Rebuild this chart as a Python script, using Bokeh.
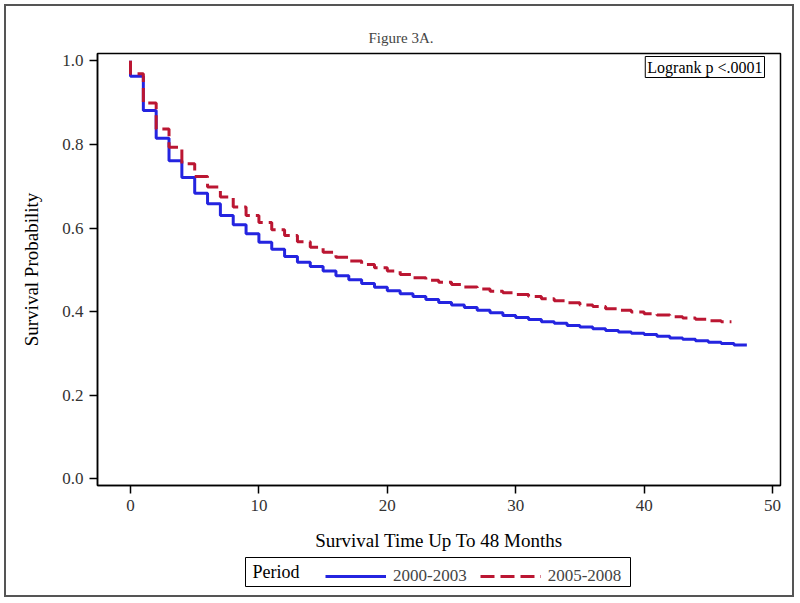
from bokeh.plotting import figure
from bokeh.layouts import column
from bokeh.models import Range1d, Legend, LegendItem, Label, FixedTicker, BoxAnnotation
from bokeh.embed import file_html
from bokeh.resources import INLINE

# ---- data ----
# Kaplan-Meier survival, value holding on [month k, k+1)
months_2000 = list(range(48))
surv_2000 = [0.963, 0.881, 0.815, 0.761, 0.721, 0.683, 0.658, 0.630, 0.608, 0.586,
             0.566, 0.549, 0.532, 0.518, 0.508, 0.497, 0.486, 0.476, 0.467, 0.458,
             0.450, 0.443, 0.436, 0.429, 0.422, 0.416, 0.410, 0.403, 0.397, 0.391,
             0.386, 0.381, 0.376, 0.372, 0.367, 0.363, 0.359, 0.355, 0.351, 0.348,
             0.345, 0.341, 0.337, 0.334, 0.330, 0.327, 0.324, 0.320]
end_2000 = 48.0

months_2005 = list(range(47))
surv_2005 = [0.969, 0.899, 0.837, 0.793, 0.754, 0.723, 0.698, 0.674, 0.650, 0.630,
             0.613, 0.596, 0.582, 0.567, 0.554, 0.542, 0.530, 0.521, 0.513, 0.505,
             0.497, 0.489, 0.481, 0.475, 0.470, 0.465, 0.459, 0.454, 0.449, 0.445,
             0.441, 0.436, 0.431, 0.426, 0.421, 0.416, 0.412, 0.407, 0.403, 0.399,
             0.395, 0.392, 0.388, 0.385, 0.382, 0.378, 0.376]
end_2005 = 46.8

series_labels = ["2000-2003", "2005-2008"]
legend_title = "Period"
x_ticks = [0, 10, 20, 30, 40, 50]
x_tick_labels = ["0", "10", "20", "30", "40", "50"]
y_ticks = [0.0, 0.2, 0.4, 0.6, 0.8, 1.0]
y_tick_labels = ["0.0", "0.2", "0.4", "0.6", "0.8", "1.0"]

FONT = "Liberation Serif"
BLUE = "#2424e0"
RED = "#bb1632"
DASH = "14 6"

X0, X1 = -2.57, 50.62
Y0, Y1 = -0.016, 1.0175
FW, FH = 683, 432
ML, MR = 91, 12

p = figure(frame_width=FW, frame_height=FH,
           min_border_left=ML, min_border_right=MR,
           min_border_top=47, min_border_bottom=70,
           x_range=Range1d(X0, X1), y_range=Range1d(Y0, Y1),
           output_backend="svg", toolbar_location=None)

p.xgrid.visible = False
p.ygrid.visible = False
p.outline_line_color = "black"
p.outline_line_width = 1.5
p.background_fill_color = "white"
p.border_fill_color = "white"


def step_pts(months, surv, end):
    t = [months[0]] + list(months) + [end]
    s = [1.0] + list(surv) + [surv[-1]]
    return t, s


t1, s1 = step_pts(months_2000, surv_2000, end_2000)
t2, s2 = step_pts(months_2005, surv_2005, end_2005)

p.step(t1, s1, mode="after", line_color=BLUE, line_width=3)
p.step(t2, s2, mode="after", line_color=RED, line_width=3, line_dash=DASH)

# axes
for ax in (p.xaxis[0], p.yaxis[0]):
    ax.axis_line_color = "black"
    ax.axis_line_width = 1.5
    ax.major_tick_line_color = "black"
    ax.major_tick_line_width = 1.5
    ax.major_tick_in = 0
    ax.major_tick_out = 8
    ax.minor_tick_line_color = None
    ax.major_label_text_font = FONT
    ax.major_label_text_font_size = "17px"
    ax.major_label_text_color = "#333333"
    ax.axis_label_text_font = FONT
    ax.axis_label_text_font_size = "19px"
    ax.axis_label_text_font_style = "normal"
    ax.axis_label_text_color = "black"

p.xaxis.ticker = FixedTicker(ticks=x_ticks)
p.xaxis.major_label_overrides = {t: l for t, l in zip(x_ticks, x_tick_labels)}
p.yaxis.ticker = FixedTicker(ticks=y_ticks)
p.yaxis.major_label_overrides = {t: l for t, l in zip(y_ticks, y_tick_labels)}
p.xaxis.axis_label = "Survival Time Up To 48 Months"
p.yaxis.axis_label = "Survival Probability"
p.xaxis.major_label_standoff = 6
p.yaxis.major_label_standoff = 6
p.xaxis.axis_label_standoff = 16
p.yaxis.axis_label_standoff = 17

# title
p.title.text = "Figure 3A."
p.title.align = "left"
p.title.offset = 271
p.title.text_font = FONT
p.title.text_font_size = "15px"
p.title.text_font_style = "normal"
p.title.standoff = 15

# logrank box
dx = (X1 - X0) / FW
dy = (Y1 - Y0) / FH
p.add_layout(Label(x=X1 - 16 * dx, y=Y1 - 3 * dy, text="Logrank p <.0001",
                   text_align="right", text_baseline="top",
                   text_font=FONT, text_font_size="16px", text_color="black",
                   border_line_color="black", border_line_width=1,
                   background_fill_color="white", padding=2))

# ---- legend strip under the chart ----
# strip ranges are in pixels (x from frame left, y offset by 100 from the strip bottom),
# so the key renderers' survival data fall outside the strip's view.
LH = 40
YB = 100
pl = figure(frame_width=FW, frame_height=LH,
            min_border_left=ML, min_border_right=MR, min_border_top=0, min_border_bottom=0,
            x_range=Range1d(0, FW), y_range=Range1d(YB, YB + LH),
            output_backend="svg", toolbar_location=None)
pl.axis.visible = False
pl.xgrid.visible = False
pl.ygrid.visible = False
pl.outline_line_color = None
pl.background_fill_color = "white"
pl.border_fill_color = "white"
k1 = pl.step(t1, s1, mode="after", line_color=BLUE, line_width=3)
k2 = pl.step(t2, s2, mode="after", line_color=RED, line_width=3, line_dash=DASH)

pl.add_layout(BoxAnnotation(left=148, right=533, bottom=YB + 9, top=YB + 38,
                            fill_color=None, fill_alpha=0,
                            line_color="black", line_alpha=1.0, line_width=1))
pl.add_layout(Label(x=155, y=YB + 23.5, text=legend_title,
                    text_align="left", text_baseline="middle",
                    text_font=FONT, text_font_size="18px", text_color="black"))

legend = Legend(items=[LegendItem(label=series_labels[0], renderers=[k1]),
                       LegendItem(label=series_labels[1], renderers=[k2])],
                orientation="horizontal", location=(228, 9))
legend.label_text_font = FONT
legend.label_text_font_size = "17px"
legend.glyph_width = 61
legend.glyph_height = 20
legend.label_standoff = 7
legend.spacing = 13
legend.padding = 5
legend.margin = 0
legend.border_line_color = None
legend.background_fill_alpha = 0
pl.add_layout(legend, "center")

layout = column(p, pl, spacing=0)
layout.margin = (4, 4, 4, 4)
layout.styles = {"border": "2px solid #555555"}

open("out.html", "w").write(file_html(layout, INLINE))
